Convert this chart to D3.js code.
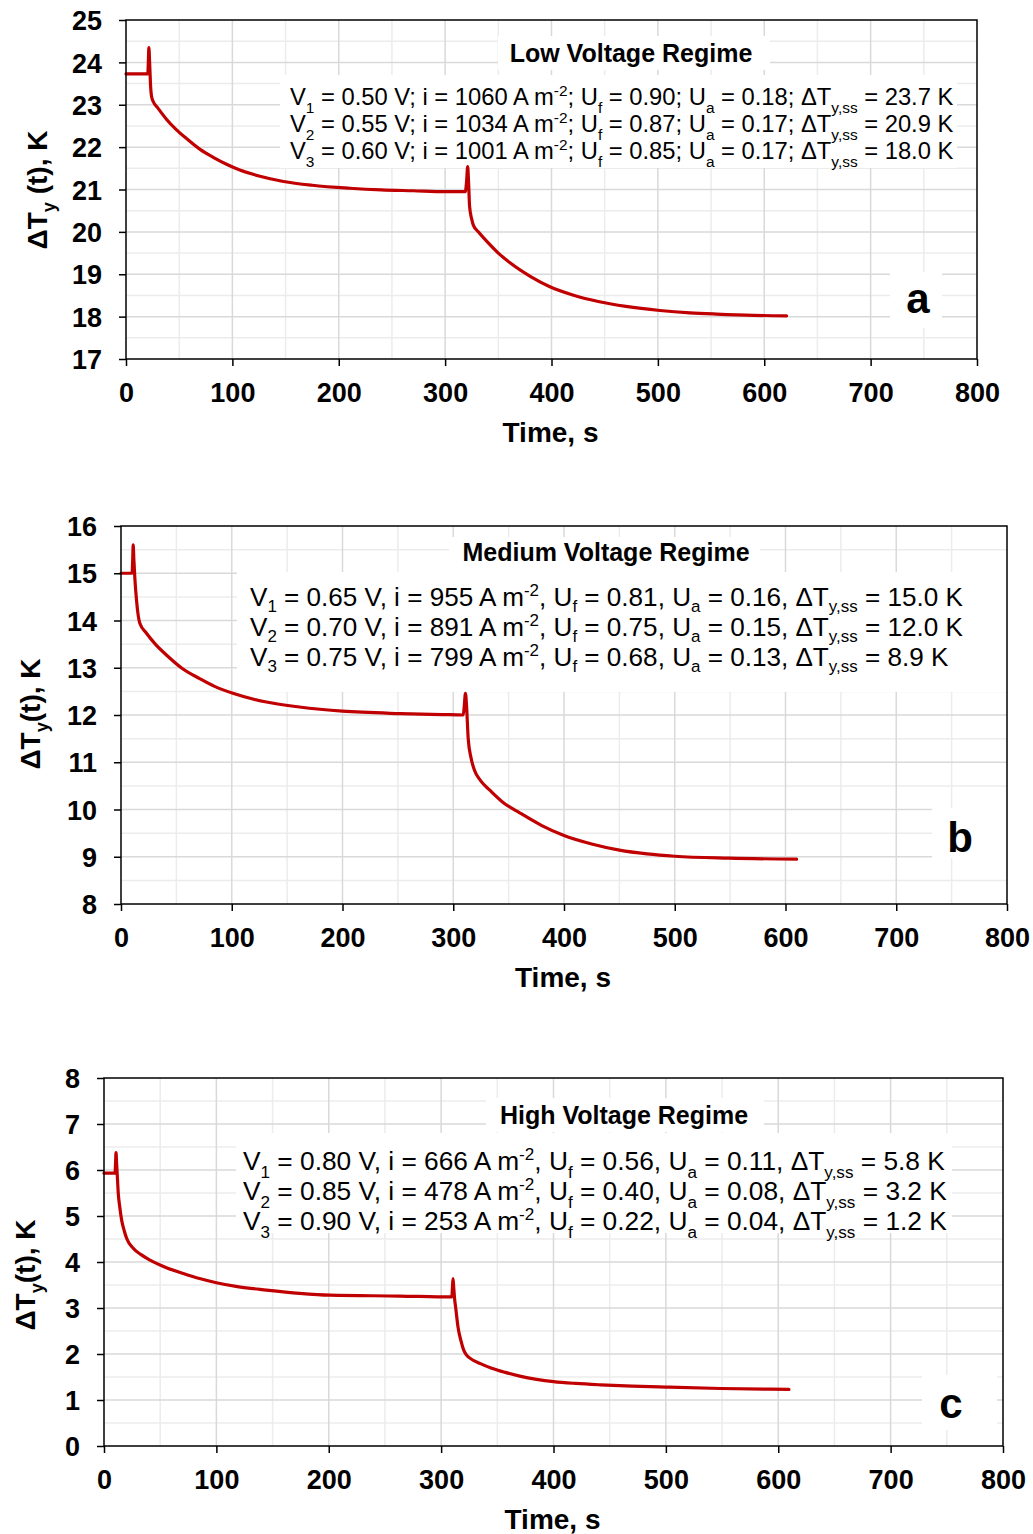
<!DOCTYPE html>
<html>
<head>
<meta charset="utf-8">
<script src="https://d3js.org/d3.v7.min.js"></script>
<style>
  body { margin: 0; background: #fff; }
  svg { font-family: "Liberation Sans", Arial, sans-serif; }
</style>
</head>
<body>
<svg id="chart" width="1033" height="1534"></svg>
<script>
// ---- data ----
var xTicks = [0, 100, 200, 300, 400, 500, 600, 700, 800];
var yTicksA = [17, 18, 19, 20, 21, 22, 23, 24, 25];
var yTicksB = [8, 9, 10, 11, 12, 13, 14, 15, 16];
var yTicksC = [0, 1, 2, 3, 4, 5, 6, 7, 8];

var timeA = [0, 10, 20.5, 21, 21.5, 22.2, 23, 24, 25.7, 30, 38, 47, 57, 70, 82, 95, 107, 125, 148, 175, 210, 240, 270, 300, 319, 320.2, 321.2, 322, 323, 325, 326.5, 332, 339, 350, 361, 380, 398, 420, 445, 470, 502, 530, 555, 590, 621];
var tempA = [23.73, 23.73, 23.73, 24.0, 24.35, 24.0, 23.5, 23.2, 23.07, 22.92, 22.66, 22.42, 22.2, 21.94, 21.76, 21.59, 21.46, 21.32, 21.19, 21.1, 21.03, 20.99, 20.97, 20.95, 20.95, 21.2, 21.54, 21.2, 20.6, 20.3, 20.16, 19.98, 19.78, 19.5, 19.27, 18.95, 18.71, 18.51, 18.35, 18.24, 18.145, 18.09, 18.06, 18.03, 18.02];

var timeB = [0, 5, 10, 10.6, 11, 11.6, 12.5, 14, 17, 23, 31, 41, 55, 71, 85, 101, 130, 161, 200, 252, 290, 309, 310, 311, 312, 313.5, 316, 319, 325, 333, 345, 360, 380, 400, 425, 450, 475, 500, 549, 610];
var tempB = [15.0, 15.0, 15.0, 15.3, 15.6, 15.3, 14.9, 14.43, 13.94, 13.73, 13.5, 13.27, 12.99, 12.77, 12.6, 12.46, 12.28, 12.17, 12.08, 12.03, 12.01, 12.0, 12.2, 12.46, 12.2, 11.5, 11.1, 10.84, 10.6, 10.41, 10.15, 9.93, 9.66, 9.45, 9.27, 9.14, 9.06, 9.01, 8.97, 8.95];

var timeC = [0, 5, 9.8, 10.3, 10.7, 11.2, 12, 12.7, 14, 15.7, 18, 20.2, 26, 33, 41, 55, 70.5, 85, 100, 120, 144.6, 174, 201, 263, 309.5, 310.1, 310.6, 311.2, 312, 313, 315, 317.5, 320, 322.5, 325.6, 335, 345, 357, 370, 385, 400, 420, 441.7, 470, 500, 549, 609.5];
var tempC = [5.93, 5.93, 5.93, 6.15, 6.38, 6.15, 5.8, 5.49, 5.2, 4.91, 4.68, 4.51, 4.30, 4.16, 4.04, 3.88, 3.75, 3.64, 3.55, 3.46, 3.39, 3.32, 3.28, 3.26, 3.24, 3.45, 3.64, 3.45, 3.2, 3.0, 2.59, 2.3, 2.09, 1.98, 1.91, 1.79, 1.69, 1.6, 1.52, 1.45, 1.40, 1.36, 1.33, 1.30, 1.28, 1.25, 1.23];

var titles = ["Low Voltage Regime", "Medium Voltage Regime", "High Voltage Regime"];
var letters = ["a", "b", "c"];
var yLabels = ["ΔT_{y} (t), K", "ΔT_{y}(t), K", "ΔT_{y}(t), K"];

var notesA = [
  "V_{1} = 0.50 V; i = 1060 A m^{-2}; U_{f} = 0.90; U_{a} = 0.18; ΔT_{y,ss} = 23.7 K",
  "V_{2} = 0.55 V; i = 1034 A m^{-2}; U_{f} = 0.87; U_{a} = 0.17; ΔT_{y,ss} = 20.9 K",
  "V_{3} = 0.60 V; i = 1001 A m^{-2}; U_{f} = 0.85; U_{a} = 0.17; ΔT_{y,ss} = 18.0 K"
];
var notesB = [
  "V_{1} = 0.65 V, i = 955 A m^{-2}, U_{f} = 0.81, U_{a} = 0.16, ΔT_{y,ss} = 15.0 K",
  "V_{2} = 0.70 V, i = 891 A m^{-2}, U_{f} = 0.75, U_{a} = 0.15, ΔT_{y,ss} = 12.0 K",
  "V_{3} = 0.75 V, i = 799 A m^{-2}, U_{f} = 0.68, U_{a} = 0.13, ΔT_{y,ss} = 8.9 K"
];
var notesC = [
  "V_{1} = 0.80 V, i = 666 A m^{-2}, U_{f} = 0.56, U_{a} = 0.11, ΔT_{y,ss} = 5.8 K",
  "V_{2} = 0.85 V, i = 478 A m^{-2}, U_{f} = 0.40, U_{a} = 0.08, ΔT_{y,ss} = 3.2 K",
  "V_{3} = 0.90 V, i = 253 A m^{-2}, U_{f} = 0.22, U_{a} = 0.04, ΔT_{y,ss} = 1.2 K"
];

// ---- layout ----
var panels = [
  {l: 126, r: 977, t: 20, b: 359, yTicks: yTicksA, time: timeA, temp: tempA, notes: notesA,
   noteX: 290, noteY: 105, noteGap: 27, noteSize: 23.75, sub: 0.34,
   titleX: 631, titleY: 62, titleSize: 25,
   titleBox: [498, 36, 272, 34], noteBox: [280, 75, 677, 93],
   letterX: 918, letterY: 313, letterBox: [890, 272, 52, 56],
   ylabX: 47, ylabY: 190, xlabY: 442, tickLabY: 402},
  {l: 121, r: 1007, t: 526, b: 904, yTicks: yTicksB, time: timeB, temp: tempB, notes: notesB,
   noteX: 250, noteY: 606, noteGap: 30, noteSize: 26.1, sub: 0.22,
   titleX: 606, titleY: 561, titleSize: 25,
   titleBox: [449, 537, 311, 35], noteBox: [237, 572, 770, 120],
   letterX: 960, letterY: 852, letterBox: [932, 808, 75, 50],
   ylabX: 40, ylabY: 714, xlabY: 987, tickLabY: 947},
  {l: 104, r: 1003, t: 1078, b: 1446, yTicks: yTicksC, time: timeC, temp: tempC, notes: notesC,
   noteX: 243, noteY: 1170, noteGap: 30, noteSize: 26.3, sub: 0.32,
   titleX: 624, titleY: 1124, titleSize: 25,
   titleBox: [486, 1098, 278, 34], noteBox: [236, 1133, 716, 100],
   letterX: 951, letterY: 1418, letterBox: [922, 1375, 75, 55],
   ylabX: 35, ylabY: 1275, xlabY: 1529, tickLabY: 1489}
];

var svg = d3.select("#chart");

// write "a_{b}" / "a^{b}" markup as tspans
function richText(sel, str, shift, size) {
    var parts = str.split(/(_\{[^}]*\}|\^\{[^}]*\})/);
    var off = 0; // current baseline offset, px
    parts.forEach(function(p) {
        if (!p) return;
        var target = 0, txt = p, small = false;
        if (p[0] == "_") { target = shift * size; txt = p.slice(2, -1); small = true; }
        else if (p[0] == "^") { target = -0.38 * size; txt = p.slice(2, -1); small = true; }
        var ts = sel.append("tspan").text(txt).attr("dy", target - off);
        if (small) ts.attr("font-size", size * 0.65);
        off = target;
    });
}

function drawPanel(p, idx) {
    var g = svg.append("g");
    var x = d3.scaleLinear().domain([0, 800]).range([p.l, p.r]);
    var y = d3.scaleLinear().domain([p.yTicks[0], p.yTicks[p.yTicks.length - 1]]).range([p.b, p.t]);

    // minor grid
    var xMinor = d3.range(50, 800, 100);
    var yMinor = p.yTicks.slice(0, -1).map(function(v) { return v + 0.5; });
    g.selectAll(".vmin").data(xMinor).enter().append("line")
        .attr("x1", x).attr("x2", x).attr("y1", p.t).attr("y2", p.b)
        .attr("stroke", "#ececec").attr("stroke-width", 1.5);
    g.selectAll(".hmin").data(yMinor).enter().append("line")
        .attr("x1", p.l).attr("x2", p.r).attr("y1", y).attr("y2", y)
        .attr("stroke", "#ececec").attr("stroke-width", 1.5);
    // major grid
    g.selectAll(".vmaj").data(xTicks.slice(1, -1)).enter().append("line")
        .attr("x1", x).attr("x2", x).attr("y1", p.t).attr("y2", p.b)
        .attr("stroke", "#d9d9d9").attr("stroke-width", 1.5);
    g.selectAll(".hmaj").data(p.yTicks.slice(1, -1)).enter().append("line")
        .attr("x1", p.l).attr("x2", p.r).attr("y1", y).attr("y2", y)
        .attr("stroke", "#d9d9d9").attr("stroke-width", 1.5);

    // white boxes behind text
    [p.titleBox, p.noteBox, p.letterBox].forEach(function(bx) {
        g.append("rect").attr("x", bx[0]).attr("y", bx[1])
            .attr("width", bx[2]).attr("height", bx[3]).attr("fill", "#fff");
    });

    // data line
    var pts = p.time.map(function(t, i) { return [t, p.temp[i]]; });
    g.append("path")
        .datum(pts)
        .attr("d", d3.line().x(function(d) { return x(d[0]); }).y(function(d) { return y(d[1]); }).curve(d3.curveMonotoneX))
        .attr("fill", "none").attr("stroke", "#c00000").attr("stroke-width", 3.2)
        .attr("stroke-linejoin", "round").attr("stroke-linecap", "round");

    // frame
    g.append("rect").attr("x", p.l).attr("y", p.t)
        .attr("width", p.r - p.l).attr("height", p.b - p.t)
        .attr("fill", "none").attr("stroke", "#000").attr("stroke-width", 1.5);

    // axes
    var xAxis = g.append("g").attr("transform", "translate(0," + p.b + ")")
        .call(d3.axisBottom(x).tickValues(xTicks).tickSize(7).tickSizeOuter(0));
    var yAxis = g.append("g").attr("transform", "translate(" + p.l + ",0)")
        .call(d3.axisLeft(y).tickValues(p.yTicks).tickSize(7).tickSizeOuter(0));
    [xAxis, yAxis].forEach(function(a) {
        a.select(".domain").remove();
        a.selectAll(".tick line").attr("stroke", "#000").attr("stroke-width", 1.5);
        a.selectAll(".tick text").attr("fill", "#000")
            .style("font-family", "'Liberation Sans', Arial, sans-serif")
            .style("font-size", "27px").style("font-weight", "bold");
    });
    xAxis.selectAll(".tick text").attr("y", null).attr("dy", null)
        .attr("transform", "translate(0," + (p.tickLabY - p.b) + ")");
    yAxis.selectAll(".tick text").attr("x", -24).attr("dy", "0.36em");

    // axis titles
    g.append("text").attr("x", (p.l + p.r) / 2 - 1).attr("y", p.xlabY)
        .attr("text-anchor", "middle").attr("font-size", 28).attr("font-weight", "bold")
        .text("Time, s");
    var yl = g.append("text")
        .attr("transform", "translate(" + p.ylabX + "," + p.ylabY + ") rotate(-90)")
        .attr("text-anchor", "middle").attr("font-size", 28).attr("font-weight", "bold");
    richText(yl, yLabels[idx], 0.28, 28);

    // title + notes
    g.append("text").attr("x", p.titleX).attr("y", p.titleY)
        .attr("text-anchor", "middle").attr("font-size", p.titleSize).attr("font-weight", "bold")
        .text(titles[idx]);
    p.notes.forEach(function(n, i) {
        var t = g.append("text").attr("x", p.noteX).attr("y", p.noteY + i * p.noteGap)
            .attr("font-size", p.noteSize);
        richText(t, n, p.sub, p.noteSize);
    });

    g.append("text").attr("x", p.letterX).attr("y", p.letterY)
        .attr("text-anchor", "middle").attr("font-size", 42).attr("font-weight", "bold")
        .text(letters[idx]);
}

panels.forEach(drawPanel);
</script>
</body>
</html>
